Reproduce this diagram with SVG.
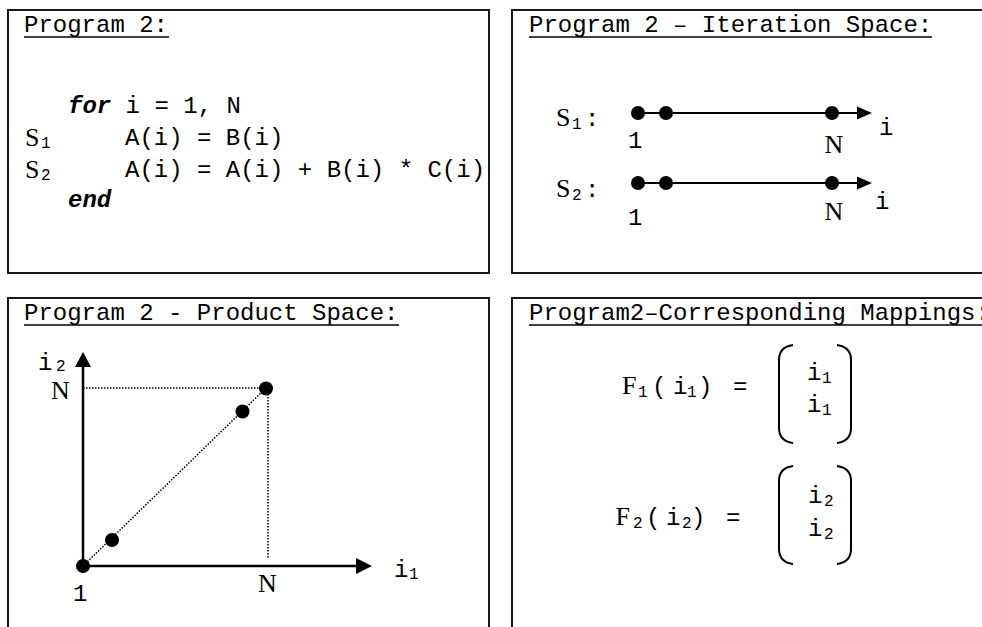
<svg xmlns="http://www.w3.org/2000/svg" width="982" height="627" viewBox="0 0 982 627">
<style>
text{font-family:"Liberation Mono","Courier New",monospace;font-size:24px;fill:#000}
text.sub{font-size:16px}
.kw{font-weight:bold;font-style:italic}
text.sr{font-family:"Liberation Serif","Times New Roman",serif;font-size:26px}
.box{fill:#fff;stroke:#1a1a1a;stroke-width:2}
.ul{stroke:#000;stroke-width:1.5}
.ax{stroke:#000;stroke-width:2;fill:none}
.ax3{stroke:#000;stroke-width:2.5;fill:none}
.dot{stroke:#000;stroke-width:1.5;stroke-dasharray:1.5 1.5;fill:none}
.pt{fill:#000}
.par{stroke:#000;stroke-width:2;fill:none}
</style>
<rect width="982" height="627" fill="#fff"/>

<g id="program">
<rect class="box" x="8" y="10" width="481" height="263"/>
<text x="24" y="32">Program 2:</text>
<line class="ul" x1="24" y1="37" x2="169" y2="37"/>
<text x="68" y="113"><tspan class="kw">for</tspan> i = 1, N</text>
<text class="sr" x="25" y="146">S</text><text class="sub" x="41" y="148">1</text>
<text x="125" y="145">A(i) = B(i)</text>
<text class="sr" x="25" y="178">S</text><text class="sub" x="41" y="180">2</text>
<text x="125" y="177">A(i) = A(i) + B(i) * C(i)</text>
<text class="kw" x="68" y="207">end</text>
</g>

<g id="iteration-space">
<rect class="box" x="512" y="10" width="480" height="263"/>
<text x="529" y="32">Program 2 – Iteration Space:</text>
<line class="ul" x1="529" y1="37" x2="932" y2="37"/>
<text class="sr" x="556" y="126">S</text><text class="sub" x="572" y="129">1</text><text x="585" y="126">:</text>
<text class="sr" x="556" y="197">S</text><text class="sub" x="572" y="200">2</text><text x="585" y="197">:</text>
<text x="628" y="148">1</text>
<text class="sr" x="824.5" y="153">N</text>
<text x="879" y="135">i</text>
<text x="628" y="225">1</text>
<text class="sr" x="824.5" y="220">N</text>
<text x="875" y="209">i</text>
</g>

<g id="product-space">
<rect class="box" x="8" y="298" width="481" height="340"/>
<text x="24" y="320">Program 2 - Product Space:</text>
<line class="ul" x1="24" y1="325" x2="399" y2="325"/>
<text x="38" y="370">i</text><text class="sub" x="56" y="371">2</text>
<text class="sr" x="51" y="399">N</text>
<text x="73" y="601">1</text>
<text class="sr" x="258" y="592">N</text>
<text x="394" y="577">i</text><text class="sub" x="409" y="579">1</text>
</g>

<g id="mappings">
<rect class="box" x="512" y="298" width="480" height="340"/>
<text x="529" y="320">Program2–Corresponding Mappings:</text>
<line class="ul" x1="529" y1="325" x2="982" y2="325"/>
<text class="sr" x="622" y="394">F</text><text class="sub" x="638" y="397">1</text><text x="652" y="394">(</text><text x="673" y="394">i</text><text class="sub" x="687" y="397">1</text><text x="698" y="394">)</text><text x="733" y="394">=</text>
<text x="807" y="380">i</text><text class="sub" x="822" y="383">1</text>
<text x="807" y="412">i</text><text class="sub" x="822" y="415">1</text>
<path class="par" d="M793 345 Q779 347 779 360 L779 428 Q779 441 793 443"/>
<path class="par" d="M837 345 Q851 347 851 360 L851 428 Q851 441 837 443"/>
<text class="sr" x="615.5" y="525">F</text><text class="sub" x="633" y="528">2</text><text x="646" y="525">(</text><text x="666" y="525">i</text><text class="sub" x="682" y="528">2</text><text x="691" y="525">)</text><text x="726" y="525">=</text>
<text x="808" y="503">i</text><text class="sub" x="824" y="506">2</text>
<text x="808" y="536">i</text><text class="sub" x="824" y="539">2</text>
<path class="par" d="M793 466 Q779 468 779 481 L779 549 Q779 562 793 564"/>
<path class="par" d="M837 466 Q851 468 851 481 L851 549 Q851 562 837 564"/>
</g>

<g id="connectors">
<line class="ax" x1="638" y1="113" x2="860" y2="113"/>
<polygon class="pt" points="872,113 857,106.5 857,119.5"/>
<circle class="pt" cx="638" cy="113" r="7"/><circle class="pt" cx="666" cy="113" r="7"/><circle class="pt" cx="832" cy="113" r="7"/>
<line class="ax" x1="638" y1="183" x2="860" y2="183"/>
<polygon class="pt" points="872,183 857,176.5 857,189.5"/>
<circle class="pt" cx="638" cy="183" r="7"/><circle class="pt" cx="666" cy="183" r="7"/><circle class="pt" cx="832" cy="183" r="7"/>

<line class="dot" x1="83" y1="388" x2="266" y2="388"/>
<line class="dot" x1="268" y1="388" x2="268" y2="559"/>
<line class="dot" x1="83" y1="566" x2="266" y2="388"/>
<line class="ax3" x1="83" y1="566" x2="83" y2="364"/>
<polygon class="pt" points="83,352 75,367 91,367"/>
<line class="ax3" x1="83" y1="566" x2="358" y2="566"/>
<polygon class="pt" points="372,566 356,558 356,574"/>
<circle class="pt" cx="83" cy="566" r="7"/>
<circle class="pt" cx="112" cy="540" r="7"/>
<circle class="pt" cx="242.5" cy="411.5" r="7"/>
<circle class="pt" cx="266" cy="388.5" r="7"/>
</g>
</svg>
